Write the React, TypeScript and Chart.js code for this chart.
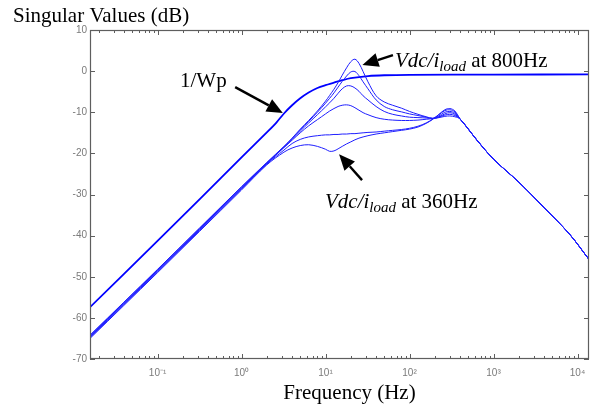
import React, { useEffect, useRef } from "react";
import { Chart, registerables } from "chart.js";
Chart.register(...registerables);

// ---------- data ----------
const freqHz = [0.0157, 0.1, 1, 2, 3.2, 4, 5, 6.3, 8, 10, 11.2, 12.6, 14.1, 15.8, 17.8, 20, 22.4, 25, 28, 32, 40, 50, 63, 80, 100, 126, 158, 190, 224, 263, 302, 347, 398, 480, 630, 1000, 2000, 4000, 8000, 13700];

const curveA = [-64.2, -48.2, -28.1, -22.2, -18.3, -16.3, -14.1, -12.0, -9.7, -7.3, -5.9, -4.4, -2.8, -1.0, 0.8, 2.3, 2.9, 1.9, -0.1, -2.6, -6.0, -7.5, -8.3, -9.0, -9.8, -10.5, -11.1, -11.5, -11.3, -11.0, -10.9, -11.1, -11.6, -13.6, -16.7, -21.4, -27.0, -33.2, -39.6, -45.8];
const curveB = [-64.3, -48.3, -28.2, -22.3, -18.4, -16.4, -14.3, -12.2, -10.0, -7.8, -6.6, -5.3, -3.9, -2.5, -1.2, -0.2, -0.1, -1.1, -2.6, -4.3, -7.0, -8.6, -9.4, -9.9, -10.4, -10.8, -11.2, -11.5, -11.2, -10.7, -10.5, -10.8, -11.6, -13.6, -16.7, -21.4, -27.0, -33.2, -39.6, -45.8];
const curveC = [-64.5, -48.5, -28.4, -22.4, -18.5, -16.6, -14.6, -12.6, -10.6, -8.7, -7.7, -6.6, -5.4, -4.3, -3.6, -3.6, -4.1, -4.9, -6.0, -7.0, -8.6, -9.8, -10.5, -10.9, -11.2, -11.3, -11.4, -11.5, -11.1, -10.4, -10.1, -10.5, -11.6, -13.6, -16.7, -21.4, -27.0, -33.2, -39.6, -45.8];
const curveD = [-64.6, -48.6, -28.5, -22.5, -18.6, -16.8, -15.0, -13.3, -11.8, -10.4, -9.7, -9.1, -8.6, -8.3, -8.2, -8.4, -8.9, -9.5, -10.1, -10.6, -11.3, -11.7, -11.9, -12.0, -12.0, -11.9, -11.7, -11.5, -10.9, -10.0, -9.8, -10.2, -11.6, -13.6, -16.7, -21.4, -27.0, -33.2, -39.6, -45.8];
const curveE = [-64.8, -48.8, -28.7, -22.6, -19.2, -17.6, -16.6, -16.0, -15.7, -15.5, -15.5, -15.4, -15.4, -15.3, -15.3, -15.2, -15.2, -15.1, -15.0, -14.9, -14.8, -14.6, -14.4, -14.2, -13.9, -13.4, -12.6, -11.6, -10.6, -9.6, -9.4, -9.9, -11.6, -13.6, -16.7, -21.4, -27.0, -33.2, -39.6, -45.8];
const curveF = [-65.0, -49.0, -28.9, -22.8, -19.7, -18.7, -18.1, -17.9, -18.3, -19.0, -19.5, -19.4, -18.9, -18.3, -17.7, -17.2, -16.7, -16.3, -16.0, -15.7, -15.3, -15.0, -14.7, -14.4, -14.1, -13.6, -12.7, -11.7, -10.5, -9.4, -9.1, -9.7, -11.6, -13.6, -16.7, -21.4, -27.0, -33.2, -39.6, -45.8];

const wpFreqHz = [0.0157, 0.1, 0.316, 1, 2, 2.6, 3.2, 4, 5, 6.3, 8, 10, 12.6, 15.8, 20, 32, 50, 100, 1000, 13700];
const wpDb = [-57.4, -41.3, -31.2, -21.0, -14.9, -12.5, -10.3, -8.3, -6.6, -5.2, -4.1, -3.4, -2.8, -2.2, -1.7, -1.2, -1.0, -0.9, -0.85, -0.8];

const xMin = 0.0157;
const xMax = 13700;
const xDecades = [0.1, 1, 10, 100, 1000, 10000];
const yMin = -70;
const yMax = 10;
const yStep = 10;

const yTitle = "Singular Values (dB)";
const xTitle = "Frequency (Hz)";
const wpLabel = "1/Wp";
const vdcMain = "Vdc/i";
const vdcSub = "load";
const note800 = " at 800Hz";
const note360 = " at 360Hz";

const SERIF = '"Liberation Serif", "Times New Roman", Times, serif';
const SANS = '"Liberation Sans", Arial, Helvetica, sans-serif';

const SUP: Record<string, string> = { "-": "\u207B", "0": "\u2070", "1": "\u00B9", "2": "\u00B2", "3": "\u00B3", "4": "\u2074", "5": "\u2075" };
function decadeLabel(v: number): string {
  const e = Math.round(Math.log10(v));
  return "10" + String(e).split("").map((c) => SUP[c] || c).join("");
}

function drawArrow(ctx: CanvasRenderingContext2D, x1: number, y1: number, x2: number, y2: number) {
  const ang = Math.atan2(y2 - y1, x2 - x1);
  const headLen = 16;
  const headHalf = 7;
  const bx = x2 - headLen * Math.cos(ang);
  const by = y2 - headLen * Math.sin(ang);
  ctx.strokeStyle = "#000";
  ctx.fillStyle = "#000";
  ctx.lineWidth = 2.4;
  ctx.beginPath();
  ctx.moveTo(x1, y1);
  ctx.lineTo(bx, by);
  ctx.stroke();
  ctx.beginPath();
  ctx.moveTo(x2, y2);
  ctx.lineTo(bx + headHalf * Math.sin(ang), by - headHalf * Math.cos(ang));
  ctx.lineTo(bx - headHalf * Math.sin(ang), by + headHalf * Math.cos(ang));
  ctx.closePath();
  ctx.fill();
}

function drawVdc(ctx: CanvasRenderingContext2D, x: number, y: number, tail: string) {
  ctx.fillStyle = "#000";
  ctx.textAlign = "left";
  ctx.textBaseline = "alphabetic";
  ctx.font = `italic 21px ${SERIF}`;
  ctx.fillText(vdcMain, x, y);
  x += ctx.measureText(vdcMain).width;
  ctx.font = `italic 15px ${SERIF}`;
  ctx.fillText(vdcSub, x, y + 4);
  x += ctx.measureText(vdcSub).width;
  ctx.font = `21px ${SERIF}`;
  ctx.fillText(tail, x, y);
}

const decorPlugin = {
  id: "decor",
  afterDraw(chart: any) {
    const { ctx, chartArea: a, scales } = chart;
    const xs = scales.x;
    const ys = scales.y;
    const X = (v: number) => xs.getPixelForValue(v);
    const Y = (v: number) => ys.getPixelForValue(v);
    ctx.save();

    // frame
    ctx.strokeStyle = "#5e5e5e";
    ctx.lineWidth = 1.2;
    ctx.strokeRect(a.left + 0.5, a.top + 0.5, a.right - a.left - 1, a.bottom - a.top - 1);

    // x ticks (inward, top and bottom)
    ctx.lineWidth = 1;
    ctx.beginPath();
    for (let d = -2; d <= 4; d++) {
      for (let k = 1; k <= 9; k++) {
        const v = k * Math.pow(10, d);
        if (v < xMin || v > xMax) continue;
        const px = Math.round(X(v)) + 0.5;
        const len = k === 1 ? 5 : 3;
        ctx.moveTo(px, a.bottom);
        ctx.lineTo(px, a.bottom - len);
        ctx.moveTo(px, a.top);
        ctx.lineTo(px, a.top + len);
      }
    }
    // y ticks (inward, left and right)
    for (let v = yMin; v <= yMax; v += yStep) {
      const py = Math.round(Y(v)) + 0.5;
      ctx.moveTo(a.left, py);
      ctx.lineTo(a.left + 5, py);
      ctx.moveTo(a.right, py);
      ctx.lineTo(a.right - 5, py);
    }
    ctx.stroke();

    // titles
    ctx.fillStyle = "#000";
    ctx.font = `21px ${SERIF}`;
    ctx.textBaseline = "alphabetic";
    ctx.textAlign = "left";
    ctx.fillText(yTitle, 13, 22);
    ctx.textAlign = "center";
    ctx.fillText(xTitle, (a.left + a.right) / 2 + 10, 399);

    // annotations (data coordinates)
    ctx.textAlign = "left";
    ctx.font = `21px ${SERIF}`;
    ctx.fillText(wpLabel, X(0.185), Y(-3.9));
    drawArrow(ctx, X(0.84), Y(-3.9), X(3.1), Y(-10.2));

    drawVdc(ctx, X(67), Y(1.0), note800);
    drawArrow(ctx, X(63.5), Y(3.9), X(27.5), Y(1.5));

    drawVdc(ctx, X(9.85), Y(-33.3), note360);
    drawArrow(ctx, X(27.2), Y(-26.5), X(14.5), Y(-20.2));

    ctx.restore();
  },
};

function makeSet(xsArr: number[], ysArr: number[], color: string, width: number) {
  return {
    data: xsArr.map((f, i) => ({ x: f, y: ysArr[i] })),
    borderColor: color,
    borderWidth: width,
    pointRadius: 0,
    fill: false,
    tension: 0.35,
  };
}

export default function App() {
  const ref = useRef<HTMLCanvasElement | null>(null);
  useEffect(() => {
    document.body.style.margin = "0";
    const canvas = ref.current;
    if (!canvas) return;
    const fam = "#1e1eff";
    const chart = new Chart(canvas, {
      type: "line",
      data: {
        datasets: [
          makeSet(freqHz, curveF, fam, 1),
          makeSet(freqHz, curveE, fam, 1),
          makeSet(freqHz, curveD, fam, 1),
          makeSet(freqHz, curveC, fam, 1),
          makeSet(freqHz, curveB, fam, 1),
          makeSet(freqHz, curveA, fam, 1),
          makeSet(wpFreqHz, wpDb, "#0000ff", 1.8),
        ] as any,
      },
      options: {
        animation: false,
        responsive: false,
        maintainAspectRatio: false,
        layout: { padding: { left: 0, right: 6, top: 30, bottom: 0 } },
        plugins: { legend: { display: false }, tooltip: { enabled: false }, title: { display: false } },
        scales: {
          x: {
            type: "logarithmic",
            min: xMin,
            max: xMax,
            grid: { display: false, drawTicks: false },
            border: { display: false },
            afterBuildTicks: (s: any) => {
              s.ticks = xDecades.map((v) => ({ value: v, major: true }));
            },
            afterFit: (s: any) => {
              s.height = 49;
            },
            ticks: {
              autoSkip: false,
              maxRotation: 0,
              padding: 8,
              color: "#7a7a7a",
              font: { family: SANS, size: 10 },
              callback: (v: any) => decadeLabel(Number(v)),
            },
          },
          y: {
            type: "linear",
            min: yMin,
            max: yMax,
            grid: { display: false, drawTicks: false },
            border: { display: false },
            afterFit: (s: any) => {
              s.width = 90;
            },
            ticks: {
              stepSize: yStep,
              padding: 3,
              color: "#7a7a7a",
              font: { family: SANS, size: 10 },
            },
          },
        },
      } as any,
      plugins: [decorPlugin],
    });
    return () => chart.destroy();
  }, []);
  return (
    <div style={{ position: "relative", width: 595, height: 408, background: "#fff" }}>
      <canvas ref={ref} width={595} height={408} style={{ display: "block" }} />
    </div>
  );
}
